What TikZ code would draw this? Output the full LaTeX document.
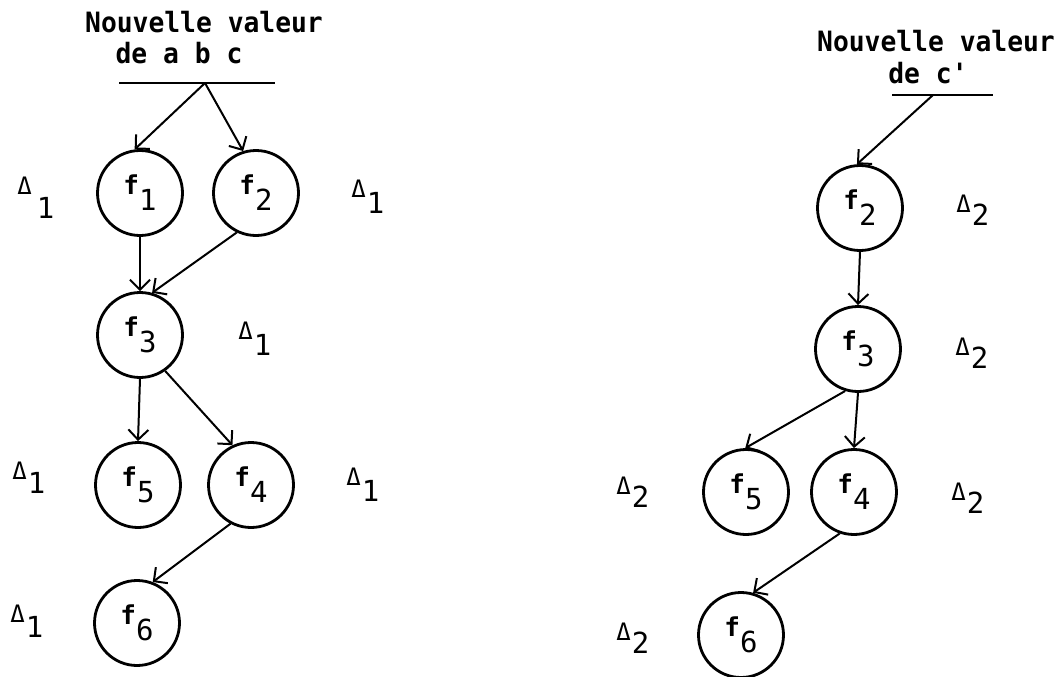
\documentclass[tikz,border=0pt]{standalone}
\usepackage{fontspec}
\newfontfamily\dvm{DejaVu Sans Mono}
\newfontfamily\ttlfont[FakeStretch=0.94]{DejaVu Sans Mono}
\usetikzlibrary{arrows.meta}
\tikzset{
 fn/.style={circle,draw,line width=1.4pt,minimum size=42.5pt,inner sep=0pt,font=\dvm\bfseries\fontsize{13}{13}\selectfont},
 ttl/.style={font=\ttlfont\bfseries\fontsize{14}{15}\selectfont,inner sep=0pt},
 dl/.style={anchor=base west,inner sep=0pt,font=\dvm\fontsize{14.5}{14.5}\selectfont},
 arr/.style={line width=1pt,-{Straight Barb[length=5pt,width=10pt,line width=1pt]}},
 baseline/.style={line width=0.9pt}
}
\newcommand\fsub[1]{f\raisebox{-8pt}{\mdseries\fontsize{14.5}{15}\selectfont #1}}
\newcommand\dsym[3]{\raisebox{#2}{\fontsize{12}{12}\selectfont Δ}\hspace{#3}#1}
\begin{document}
\begin{tikzpicture}[x=0.5pt,y=-0.5pt]
\useasboundingbox (0,0) rectangle (1062,676);
% ---------- left graph ----------
\node[ttl] (t1a) at (204,22) {Nouvelle valeur};
\node[ttl] (t1b) at (179,53) {de a b c};
\coordinate (l1a) at (119,83);
\coordinate (l1b) at (275,83);
\coordinate (p1) at (205,83);
\draw[baseline] (l1a) -- (l1b);
\node[fn] (a1) at (140,193) {\fsub{1}};
\node[fn] (a2) at (256,193) {\fsub{2}};
\node[fn] (a3) at (140,335) {\fsub{3}};
\node[fn] (a5) at (138,485) {\fsub{5}};
\node[fn] (a4) at (251,485) {\fsub{4}};
\node[fn] (a6) at (137,623) {\fsub{6}};
\draw[arr] (p1) -- (a1.97);
\draw[arr] (p1) -- (a2.107);
\draw[arr] (a1.south) -- (a3.north);
\draw[arr] (a2.244) -- (a3.74);
\draw[arr] (a3.south) -- (a5.north);
\draw[arr] (a3.305) -- (a4.115);
\draw[arr] (a4.242) -- (a6.69);
\node[dl] (da1) at (17,218) {\dsym{1}{12pt}{2.5pt}};
\node[dl] (da2) at (351,213) {\dsym{1}{8pt}{0.5pt}};
\node[dl] (da3) at (238,355) {\dsym{1}{8pt}{0.5pt}};
\node[dl] (da5) at (12,493) {\dsym{1}{7pt}{0.5pt}};
\node[dl] (da4) at (346,501) {\dsym{1}{8pt}{0.5pt}};
\node[dl] (da6) at (10,637) {\dsym{1}{7.5pt}{0.5pt}};
% ---------- right graph ----------
\node[ttl] (t2a) at (936,41) {Nouvelle valeur};
\node[ttl] (t2b) at (928,73) {de c'};
\coordinate (l2a) at (892,95);
\coordinate (l2b) at (993,95);
\coordinate (p2) at (933,95);
\draw[baseline,line width=1.2pt] (l2a) -- (l2b);
\node[fn] (b2) at (860,208) {\fsub{2}};
\node[fn] (b3) at (858,349) {\fsub{3}};
\node[fn] (b5) at (746,492) {\fsub{5}};
\node[fn] (b4) at (854,492) {\fsub{4}};
\node[fn] (b6) at (741,635) {\fsub{6}};
\draw[arr] (p2) -- (b2.94);
\draw[arr] (b2.south) -- (b3.north);
\draw[arr] (b3.253) -- (b5.91);
\draw[arr] (b3.south) -- (b4.north);
\draw[arr] (b4.251) -- (b6.74);
\node[dl] (db2) at (956,225) {\dsym{2}{6.5pt}{0.5pt}};
\node[dl] (db3) at (955,368) {\dsym{2}{6.5pt}{0.5pt}};
\node[dl] (db5) at (616,507) {\dsym{2}{6.5pt}{0.5pt}};
\node[dl] (db4) at (951,513) {\dsym{2}{6.5pt}{0.5pt}};
\node[dl] (db6) at (616,653) {\dsym{2}{6.5pt}{0.5pt}};
\end{tikzpicture}
\end{document}
